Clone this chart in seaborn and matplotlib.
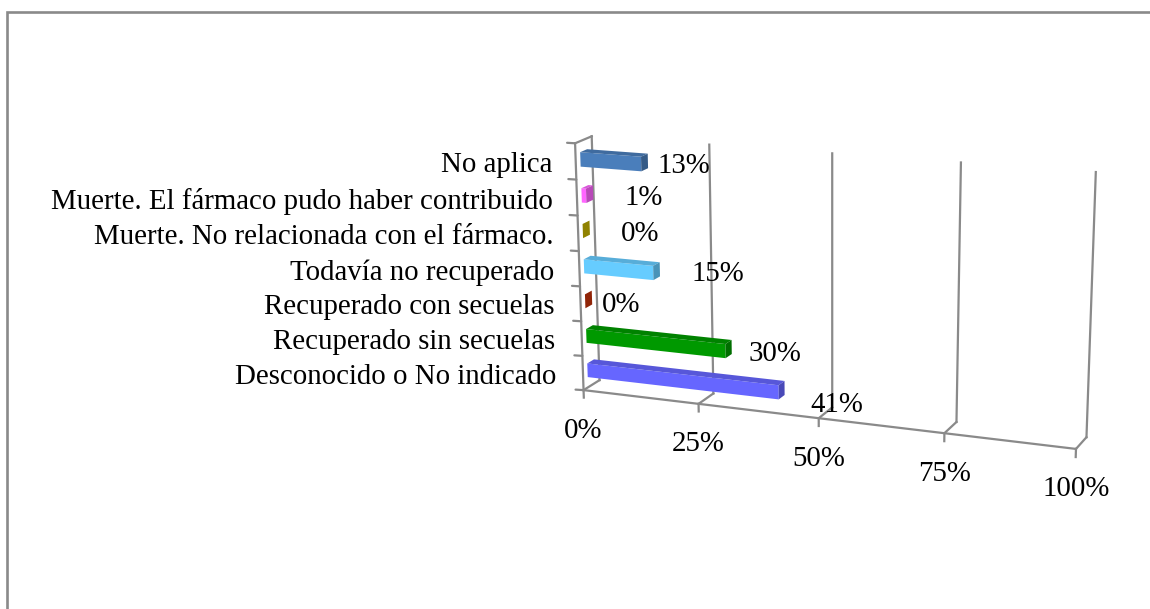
import numpy as np
import matplotlib
matplotlib.use('Agg')
import matplotlib.pyplot as plt
import seaborn as sns
from matplotlib.lines import Line2D
from matplotlib.patches import Polygon
from matplotlib.transforms import Transform, IdentityTransform

# --- data ---
categories = ['No aplica',
              'Muerte. El fármaco pudo haber contribuido',
              'Muerte. No relacionada con el fármaco.',
              'Todavía no recuperado',
              'Recuperado con secuelas',
              'Recuperado sin secuelas',
              'Desconocido o No indicado']
values = [13, 1, 0, 15, 0, 30, 41]
bar_colors = ['#4a7ebb', '#ff66ff', '#c8b400', '#66ccff', '#c8320a', '#009900', '#6666ff']
x_ticks = [0, 25, 50, 75, 100]

# --- layout ---
W, H = 1150, 609
BAR_WIDTH = 0.4
Z_FRONT, Z_BACK = 0.28, 0.7
GRID = '#8a8a8a'
label_dx = [36, 51, 50, 58, 29, 43, 52]
label_dy = [5, 5, 6, 5, 7, 7, 17]

# perspective of the chart box: (value, category, depth) -> picture pixel
# calibration points are the box corners
box_3d = [(0, -.5, 0), (0, 6.5, 0), (25, 6.5, 0), (50, 6.5, 0), (75, 6.5, 0), (100, 6.5, 0),
          (0, -.5, 1), (25, -.5, 1), (50, -.5, 1), (75, -.5, 1), (100, -.5, 1),
          (0, 6.5, 1), (25, 6.5, 1), (50, 6.5, 1), (75, 6.5, 1), (100, 6.5, 1)]
box_px = [(575, 143), (583.3, 390), (699, 405), (819, 418.5), (944, 433), (1076, 448),
          (592, 137), (709, 145), (832, 153), (961, 162), (1096, 172),
          (599, 378), (714, 393), (832, 410), (957, 422), (1086, 437)]


def fit_projection(pts3, pts2):
    rows = []
    for (x, y, z), (u, v) in zip(pts3, pts2):
        rows.append([x, y, z, 1, 0, 0, 0, 0, -u * x, -u * y, -u * z, -u])
        rows.append([0, 0, 0, 0, x, y, z, 1, -v * x, -v * y, -v * z, -v])
    return np.linalg.svd(np.array(rows, float))[2][-1].reshape(3, 4)


P = fit_projection(box_3d, box_px)


def project(x, y, z):
    x, y, z = [np.asarray(a, float) for a in (x, y, z)]
    q = P @ np.stack([x, y, z, np.ones_like(x)])
    return q[0] / q[2], H - q[1] / q[2]  # display coordinates, y up


class Depth(Transform):
    # draws (value, category) data on the plane of one depth
    input_dims = output_dims = 2
    has_inverse = False

    def __init__(self, z):
        super().__init__()
        self.z = z

    def transform_non_affine(self, xy):
        xy = np.asarray(xy, float)
        px, py = project(xy[:, 0], xy[:, 1], np.full(len(xy), self.z))
        return np.column_stack([px, py])


def shade(color, k):
    return tuple(c * k for c in matplotlib.colors.to_rgb(color))


sns.set_theme(style='white')
plt.rcParams['font.family'] = ['Liberation Serif', 'DejaVu Serif']
FS = 20.8

fig = plt.figure(figsize=(W / 100, H / 100), dpi=100, facecolor='white')
ax = fig.add_axes([0, 0, 1, 1])

sns.barplot(x=values, y=categories, hue=categories, palette=bar_colors, orient='h',
            width=BAR_WIDTH, saturation=1, legend=False, ax=ax, zorder=3)
ax.set_axis_off()


def line3d(x, y, z, **kw):
    px, py = project(x, y, z)
    ax.plot(px, py, color=GRID, lw=1.6, transform=IdentityTransform(), clip_on=False,
            solid_capstyle='projecting', zorder=1, **kw)


# back walls, floor lines and ticks
for t in x_ticks:
    line3d([t, t], [6.5, -.5], [1, 1])
    line3d([t, t], [6.5, 6.5], [0, 1])
    line3d([t, t], [6.5, 6.72], [0, 0])
    px, py = project(t, 6.5, 0)
    ax.text(px, py - 40.5, f'{t}%', transform=IdentityTransform(), ha='center', va='center',
            fontsize=FS, color='black')
line3d([0, 100], [6.5, 6.5], [0, 0])
line3d([0, 0], [-.5, 6.5], [0, 0])
line3d([0, 0], [-.5, -.5], [0, 1])
for i in range(len(categories) + 1):
    px, py = project(0, i - .5, 0)
    ax.plot([px - 8, px], [py + .5, py], color=GRID, lw=1.6, transform=IdentityTransform(),
            clip_on=False, zorder=1)

# 3d faces of the seaborn bars
bars = list(ax.patches)
for bar, color, cat, dx, dy in zip(bars, bar_colors, categories, label_dx, label_dy):
    x1 = bar.get_x() + bar.get_width()
    y0, y1 = bar.get_y(), bar.get_y() + bar.get_height()
    bar.set_transform(Depth(Z_FRONT))
    bar.set_linewidth(0)
    bar.set_zorder(3)
    bar.set_clip_on(False)
    top = project([0, x1, x1, 0], [y0] * 4, [Z_FRONT, Z_FRONT, Z_BACK, Z_BACK])
    side = project([x1] * 4, [y0, y1, y1, y0], [Z_FRONT, Z_FRONT, Z_BACK, Z_BACK])
    ax.add_patch(Polygon(np.column_stack(top), transform=IdentityTransform(), fc=shade(color, .85),
                         ec='none', zorder=3, clip_on=False))
    ax.add_patch(Polygon(np.column_stack(side), transform=IdentityTransform(), fc=shade(color, .72),
                         ec='none', zorder=3, clip_on=False))
    # data label next to the end of the bar
    ex, ey = project(x1, (y0 + y1) / 2, Z_BACK)
    ax.text(ex + dx, ey - dy, f'{bar.get_width():.0f}%', transform=IdentityTransform(),
            ha='center', va='center', fontsize=FS, color='black', zorder=5)

# category labels on the left axis
for i, cat in enumerate(categories):
    px, py = project(0, i, 0)
    ax.text(px - (23 + .65 * i), py - 3.5, cat, transform=IdentityTransform(), ha='right', va='center',
            fontsize=FS, color='black')

# frame of the picture, cut by the right and bottom edges
fig.add_artist(Line2D([7 / W, 7 / W, 1], [0, 1 - 11.5 / H, 1 - 11.5 / H], color=GRID, lw=1.9,
                      solid_joinstyle='miter'))

fig.savefig('out.png', dpi=100, facecolor='white')
